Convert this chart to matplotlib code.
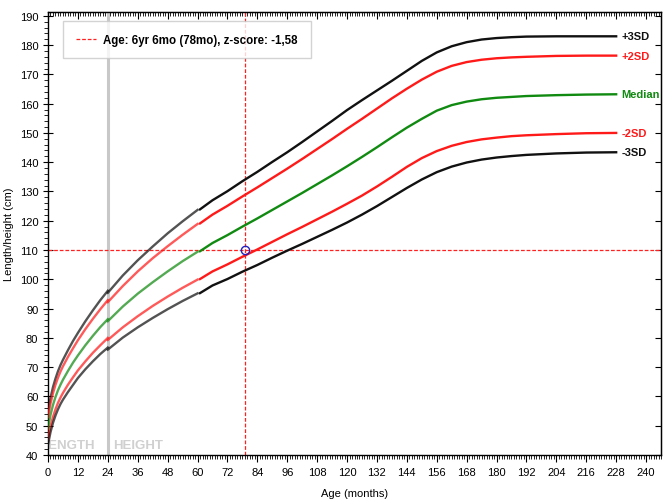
import matplotlib
matplotlib.use("Agg")
import matplotlib.pyplot as plt
from matplotlib.ticker import MultipleLocator, NullFormatter

plt.rcParams['font.family'] = ['Liberation Sans', 'DejaVu Sans']

# WHO girls, length (0-24 mo)
age_len = [0, 1, 2, 3, 4, 5, 6, 8, 10, 12, 15, 18, 21, 24]
len_m3 = [43.6, 47.8, 51.0, 53.5, 55.6, 57.4, 58.9, 61.5, 63.9, 66.3, 69.3, 72.0, 74.5, 76.7]
len_m2 = [45.4, 49.8, 53.0, 55.6, 57.8, 59.6, 61.2, 64.0, 66.5, 68.9, 72.0, 74.9, 77.5, 80.0]
len_med = [49.1, 53.7, 57.1, 59.8, 62.1, 64.0, 65.7, 68.7, 71.5, 74.0, 77.5, 80.7, 83.7, 86.4]
len_p2 = [52.9, 57.6, 61.1, 64.0, 66.4, 68.5, 70.3, 73.5, 76.4, 79.2, 83.0, 86.5, 89.8, 92.9]
len_p3 = [54.7, 59.5, 63.2, 66.1, 68.6, 70.7, 72.5, 75.8, 78.9, 81.7, 85.7, 89.4, 92.9, 96.1]

# WHO girls, height (24-60 mo)
age_hgt = [24, 30, 36, 42, 48, 54, 60]
hgt_m3 = [76.0, 80.1, 83.6, 86.8, 89.8, 92.6, 95.2]
hgt_m2 = [79.3, 83.6, 87.4, 90.9, 94.1, 97.1, 99.9]
hgt_med = [85.7, 90.7, 95.1, 99.0, 102.7, 106.2, 109.4]
hgt_p2 = [92.2, 97.7, 102.7, 107.2, 111.3, 115.2, 118.9]
hgt_p3 = [95.4, 101.3, 106.5, 111.2, 115.7, 119.8, 123.7]

# WHO 2007 reference girls (61-228 mo)
age_ref = [61, 66, 72, 78, 84, 90, 96, 102, 108, 114, 120, 126, 132, 138, 144,
           150, 156, 162, 168, 174, 180, 186, 192, 204, 216, 228]
ref_m3 = [95.3, 97.9, 100.1, 102.6, 104.9, 107.4, 109.8, 112.1, 114.5, 116.9, 119.4, 122.1, 125.0,
          128.1, 131.2, 134.1, 136.6, 138.5, 139.9, 140.9, 141.6, 142.1, 142.5, 143.0, 143.3, 143.4]
ref_m2 = [100.1, 102.7, 105.1, 107.7, 110.2, 112.8, 115.4, 117.9, 120.5, 123.1, 125.8, 128.6, 131.7,
          135.0, 138.4, 141.4, 143.8, 145.6, 146.9, 147.8, 148.4, 148.9, 149.2, 149.6, 149.9, 150.0]
ref_med = [109.6, 112.4, 115.1, 118.0, 120.8, 123.7, 126.6, 129.5, 132.5, 135.5, 138.6, 141.8, 145.1,
           148.5, 151.8, 154.8, 157.6, 159.5, 160.7, 161.5, 162.0, 162.3, 162.6, 162.9, 163.1, 163.2]
ref_p2 = [119.1, 122.1, 125.1, 128.3, 131.4, 134.6, 137.8, 141.1, 144.5, 147.9, 151.4, 154.8, 158.3,
          161.8, 165.1, 168.2, 170.9, 172.9, 174.2, 175.0, 175.5, 175.8, 176.0, 176.3, 176.4, 176.4]
ref_p3 = [123.9, 127.0, 130.1, 133.5, 136.7, 140.1, 143.4, 146.9, 150.5, 154.1, 157.8, 161.2, 164.5,
          167.8, 171.2, 174.6, 177.5, 179.6, 181.0, 181.9, 182.4, 182.7, 182.9, 183.0, 183.0, 183.0]

curve_names = ['+3SD', '+2SD', 'Median', '-2SD', '-3SD']
curve_colors = ['#111111', '#ff1a1a', '#108a10', '#ff1a1a', '#111111']
len_sets = [len_p3, len_p2, len_med, len_m2, len_m3]
hgt_sets = [hgt_p3, hgt_p2, hgt_med, hgt_m2, hgt_m3]
ref_sets = [ref_p3, ref_p2, ref_med, ref_m2, ref_m3]

child_age = 79
child_height = 110
legend_text = 'Age: 6yr 6mo (78mo), z-score: -1,58'

fig = plt.figure(figsize=(6.64, 5.02), dpi=100)
ax = fig.add_axes([0.0723, 0.0916, 0.9232, 0.8825])

ax.axvline(24, color='#c8c8c8', lw=2.2, zorder=1)
ax.text(-3, 43.5, 'LENGTH', color='#d0d0d0', fontsize=9.5, fontweight='bold', ha='left', va='center', zorder=1, clip_on=True)
ax.text(26, 43.5, 'HEIGHT', color='#d0d0d0', fontsize=9.5, fontweight='bold', ha='left', va='center', zorder=1)

for name, col, l, h, r in zip(curve_names, curve_colors, len_sets, hgt_sets, ref_sets):
    ax.plot(age_len, l, color=col, lw=1.7, alpha=0.72, zorder=3)
    ax.plot(age_hgt, h, color=col, lw=1.7, alpha=0.72, zorder=3)
    ax.plot(age_ref, r, color=col, lw=1.7, zorder=3)
    ax.text(230, r[-1], name, color=col, fontsize=8, fontweight='bold', ha='left', va='center')

ax.axhline(child_height, color='#ff2020', lw=0.9, ls=(0, (3, 1.5)), zorder=2)
ax.axvline(child_age, color='#ff2020', lw=0.9, ls=(0, (3, 1.5)), zorder=2)
ax.plot([child_age], [child_height], 'o', ms=6, mfc='none', mec='#2020c0', mew=1, zorder=5)

leg_line, = ax.plot([], [], color='#ff2020', lw=0.9, ls=(0, (3, 1.5)))
leg = ax.legend([leg_line], [legend_text], loc='upper left', bbox_to_anchor=(0.0245, 0.98),
                borderaxespad=0, frameon=True, fancybox=False, handlelength=1.8,
                handletextpad=0.6, borderpad=1.1, prop={'size': 8.3, 'weight': 'bold'})
leg.get_frame().set_edgecolor('#c8c8c8')
leg.get_frame().set_linewidth(1)

ax.set_xlim(0, 246)
ax.set_ylim(40, 191.3)
ax.xaxis.set_major_locator(MultipleLocator(12))
ax.xaxis.set_minor_locator(MultipleLocator(1))
ax.yaxis.set_major_locator(MultipleLocator(10))
ax.yaxis.set_minor_locator(MultipleLocator(2))
ax.tick_params(axis='x', which='major', direction='out', length=5, width=0.8, labelsize=8)
ax.tick_params(axis='x', which='minor', direction='out', length=3, width=0.6)
ax.tick_params(axis='y', which='major', direction='inout', length=7, width=0.8, labelsize=8)
ax.tick_params(axis='y', which='minor', direction='out', length=3, width=0.6)

# inward ticks on top and right edges
top = ax.secondary_xaxis('top')
top.xaxis.set_major_locator(MultipleLocator(12))
top.xaxis.set_minor_locator(MultipleLocator(1))
top.xaxis.set_major_formatter(NullFormatter())
top.tick_params(which='major', direction='in', length=5, width=0.8)
top.tick_params(which='minor', direction='in', length=3, width=0.6)
right = ax.secondary_yaxis('right')
right.yaxis.set_major_locator(MultipleLocator(10))
right.yaxis.set_major_formatter(NullFormatter())
right.tick_params(which='major', direction='in', length=4, width=0.8)
right.tick_params(which='minor', right=False)
for sp in ax.spines.values():
    sp.set_linewidth(1)

ax.set_xlabel('Age (months)', fontsize=8, labelpad=8)
ax.set_ylabel('Length/height (cm)', fontsize=8, labelpad=4)

fig.savefig('out.png', dpi=100)
